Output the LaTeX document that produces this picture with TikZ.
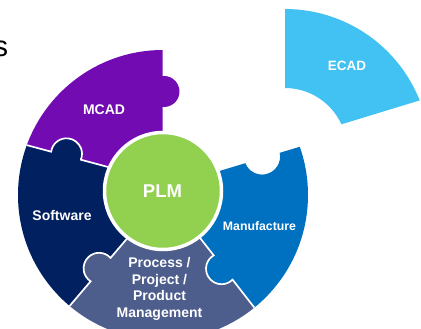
\documentclass[tikz,border=0pt]{standalone}
\usepackage{fontspec}
\setmainfont{Liberation Sans}
\definecolor{mcadc}{RGB}{114,12,178}
\definecolor{ecadc}{RGB}{66,194,242}
\definecolor{softc}{RGB}{0,32,96}
\definecolor{manc}{RGB}{0,112,192}
\definecolor{procc}{RGB}{77,93,140}
\definecolor{plmc}{RGB}{146,208,80}
\begin{document}
\begin{tikzpicture}[x=1pt,y=-1pt,
  lab/.style={text=white,font=\bfseries\fontsize{14}{16.7}\selectfont,inner sep=0pt,align=center},
  seam/.style={white,line width=1.7pt}]
\useasboundingbox (0,0) rectangle (421,329);
\coordinate (G) at (163,191);
\coordinate (C) at (163,195);
% ring pieces
\begin{scope}
\clip (C) circle (145);
% MCAD
\fill[mcadc] (G) -- (162.5,106.9) arc[start angle=95.55, end angle=-95.55, radius=15.5]
  -- (162.5,20) -- (0,20) -- (10.7,140.8) -- (51.15,151.7)
  arc[start angle=-172.2, end angle=22.4, radius=15.5] -- (150.6,178.4) -- cycle;
% Software
\fill[softc] (G) -- (150.6,178.4) -- (80.84,159.7)
  arc[start angle=22.4, end angle=-172.2, radius=15.5] -- (10.7,140.8) -- (0,140) -- (0,345)
  -- (56.8,321) -- (90.64,281.3) arc[start angle=-237, end angle=-42.2, radius=15.5]
  -- (150.9,210.6) -- cycle;
% Process
\fill[procc] (G) -- (150.9,210.6) -- (110.56,257.9)
  arc[start angle=-42.2, end angle=-237, radius=15.5] -- (56.8,321) -- (56.8,345)
  -- (268.4,345) -- (268.4,325.7) -- (232.54,279.62)
  arc[start angle=44.7, end angle=239.5, radius=15.5] -- (177.1,208.5) -- cycle;
% Manufacture
\fill[manc] (G) -- (177.1,208.5) -- (213.66,255.38)
  arc[start angle=239.5, end angle=44.7, radius=15.5] -- (268.4,325.7) -- (340,345)
  -- (340,130) -- (314.4,142.4) -- (279.69,152.82)
  arc[start angle=-12, end angle=158.4, radius=18] -- (174.8,184.5) -- cycle;
% seams
\draw[seam] (10.7,140.8) -- (51.15,151.7)
  arc[start angle=-172.2, end angle=22.4, radius=15.5] -- (150.6,178.4);
\draw[seam] (150.9,210.6) -- (110.56,257.9)
  arc[start angle=-42.2, end angle=-237, radius=15.5] -- (56.8,321);
\draw[seam] (177.1,208.5) -- (213.66,255.38)
  arc[start angle=239.5, end angle=44.7, radius=15.5] -- (268.4,325.7);
\end{scope}
% detached ECAD piece
\fill[ecadc, shift={(122,-41)}] (163,129) -- (163,50)
  arc[start angle=-90, end angle=-21.7, radius=145] -- (219.4,165.3)
  arc[start angle=-24.5, end angle=-90, radius=62] -- cycle;
% PLM hub
\draw[draw=white, fill=plmc, line width=3.5pt] (G) circle (58.5);
% labels
\node[lab] (mcadL) at (104,110) {MCAD};
\node[lab,font=\bfseries\fontsize{13.5}{16}\selectfont] (ecadL) at (347,65.5) {ECAD};
\node[lab,font=\bfseries\fontsize{18.5}{22}\selectfont] (plmL) at (162.5,191.5) {PLM};
\node[lab] (softL) at (62,215) {Software};
\node[lab,font=\bfseries\fontsize{12.3}{15}\selectfont] (manL) at (259.5,226.5) {Manufacture};
\node[lab] (procL) at (159.5,289) {Process /\\Project /\\Product\\Management};
\node[inner sep=0pt,anchor=base east,font=\fontsize{29}{32}\selectfont] (sL) at (8.4,56.5) {s};
\end{tikzpicture}
\end{document}
